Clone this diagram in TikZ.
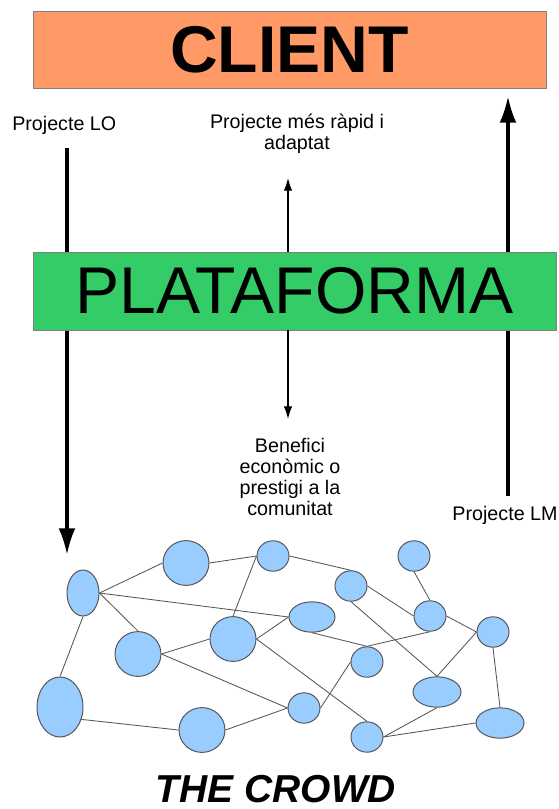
\documentclass[tikz,border=0pt]{standalone}
\usepackage{fontspec}
\setmainfont{Liberation Sans}
\usetikzlibrary{arrows.meta,shapes.geometric}

\definecolor{clientfill}{RGB}{255,153,102}
\definecolor{platfill}{RGB}{51,204,102}
\definecolor{crowdfill}{RGB}{153,204,255}
\definecolor{crowdline}{RGB}{85,85,85}

\tikzset{
  bigbox/.style={draw=gray, line width=0.6pt, inner sep=0pt},
  person/.style={ellipse, draw=crowdline, fill=crowdfill, line width=0.7pt, inner sep=0pt},
  sm/.style={person, minimum width=0.8cm, minimum height=0.76cm},
  md/.style={person, minimum width=1.15cm, minimum height=1.12cm},
  flat/.style={person, minimum width=1.2cm, minimum height=0.76cm},
  link/.style={draw=crowdline, line width=0.6pt},
  note/.style={font=\fontsize{14}{15}\selectfont, align=center, inner sep=0pt},
  fatarrow/.style={line width=2.5pt, -{Latex[length=19pt,width=12pt]}},
  thinarrow/.style={line width=0.8pt, -{Latex[length=9pt,width=6pt]}}
}

\begin{document}
\begin{tikzpicture}[x=0.025cm, y=-0.025cm]
\useasboundingbox (0,0) rectangle (559,809);

\node[note, anchor=base west] (lo) at (12,130) {Projecte LO};
\node[note] (fast) at (297,134) {Projecte més ràpid i\\adaptat};
\node[note] (benefit) at (290,477) {Benefici\\econòmic o\\prestigi a la\\comunitat};
\node[note, anchor=base] (lm) at (505,520) {Projecte LM};

\coordinate (lotop) at (67,148);
\coordinate (lotip) at (67,555);
\coordinate (lmfoot) at (508,496);
\coordinate (lmtip) at (508,96);
\draw[fatarrow] (lotop) -- (lotip);
\draw[fatarrow] (lmfoot) -- (lmtip);

\node[bigbox, fill=clientfill, minimum width=12.825cm, minimum height=1.925cm,
  font=\fontsize{47}{50}\selectfont\bfseries] (client) at (289.5,49.5) {CLIENT};
\node[bigbox, fill=platfill, minimum width=13.075cm, minimum height=1.95cm,
  font=\fontsize{47}{50}\selectfont] (plat) at (294.5,291) {PLATAFORMA};

\coordinate (fasttip) at (288,178);
\coordinate (bentip) at (288,419);
\draw[thinarrow] (plat.north -| fasttip) -- (fasttip);
\draw[thinarrow] (plat.south -| bentip) -- (bentip);

\node[person, minimum width=0.8cm, minimum height=1.15cm] (n1) at (83,593) {};
\node[md] (n2) at (138,654) {};
\node[person, minimum width=1.15cm, minimum height=1.5cm] (n3) at (60,707) {};
\node[md] (n4) at (186,563) {};
\node[md] (n5) at (202,730) {};
\node[md] (n6) at (233,639) {};
\node[sm] (n7) at (273,556) {};
\node[person, minimum width=1.15cm, minimum height=0.76cm] (n8) at (312,617) {};
\node[sm] (n9) at (351,586) {};
\node[sm] (n10) at (304,708) {};
\node[sm] (n11) at (367,662) {};
\node[sm] (n12) at (367,737) {};
\node[sm] (n13) at (414,556) {};
\node[sm] (n14) at (430,616) {};
\node[flat] (n15) at (437,692) {};
\node[sm] (n16) at (493,632) {};
\node[flat] (n17) at (500,723) {};

\foreach \a/\b in {n1.east/n4.west, n1.east/n8.west, n1.east/n2.north, n1.south/n3.north,
  n2.east/n6.west, n2.east/n10.west, n3.-30/n5.west, n5.east/n10.west,
  n4.east/n7.west, n7.west/n6.north, n6.east/n8.west, n6.east/n12.north,
  n7.east/n9.north, n9.east/n14.west, n9.south/n15.north, n8.south/n11.north,
  n11.north/n14.south, n10.east/n11.west, n13.south/n14.north, n14.east/n16.west,
  n16.west/n15.north, n16.south/n17.north, n12.east/n15.south, n12.east/n17.west}
  \draw[link] (\a) -- (\b);

\node[inner sep=0pt, font=\fontsize{27.7}{30}\selectfont\bfseries\itshape, anchor=base] (crowd) at (276,802) {THE CROWD};
\end{tikzpicture}
\end{document}
